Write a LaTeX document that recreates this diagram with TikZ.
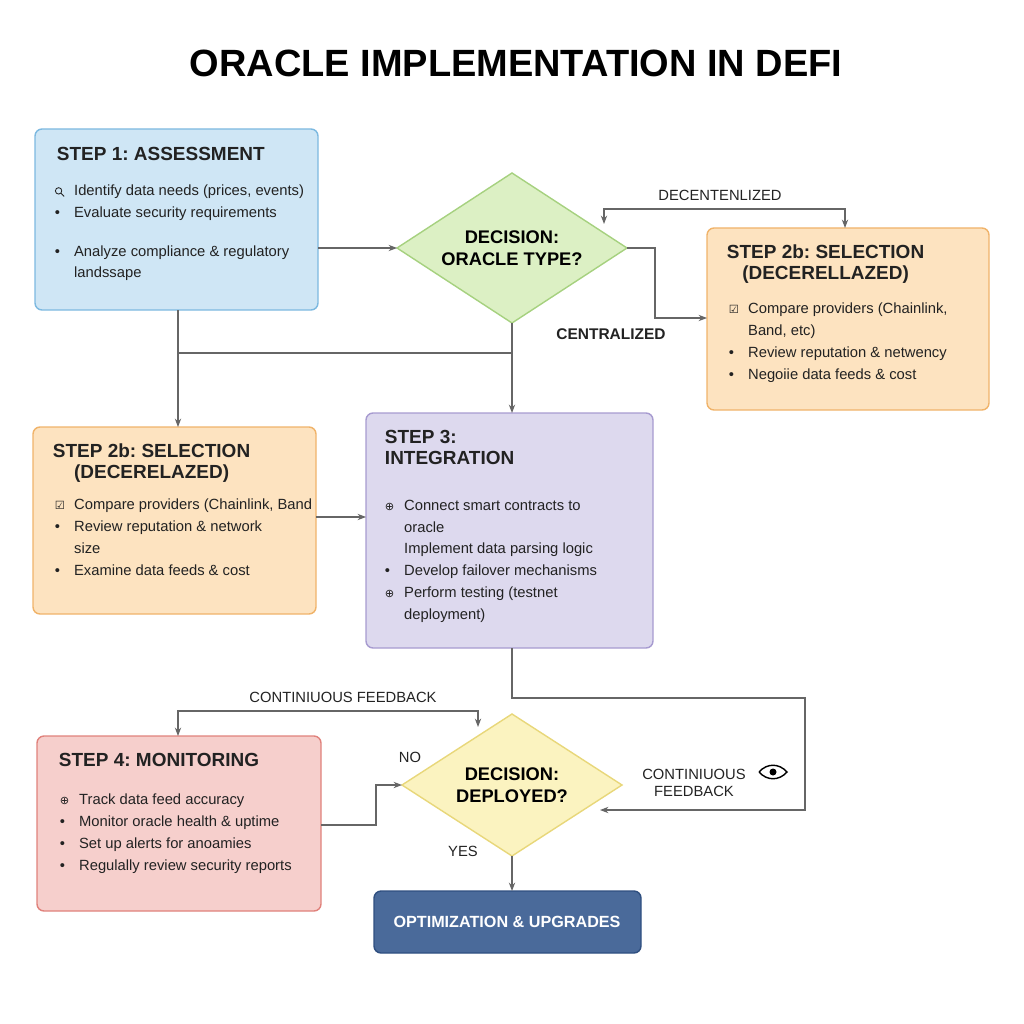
\documentclass[tikz,border=0pt]{standalone}
\usepackage{fontspec}
\setmainfont{Liberation Sans}
\newfontfamily\symfont{DejaVu Sans}
\usetikzlibrary{shapes.geometric,arrows.meta}
\definecolor{bluefill}{HTML}{CFE6F5}\definecolor{blueline}{HTML}{7DB9E0}
\definecolor{greenfill}{HTML}{DCF0C4}\definecolor{greenline}{HTML}{A6D17F}
\definecolor{orangefill}{HTML}{FDE3C0}\definecolor{orangeline}{HTML}{F0B36A}
\definecolor{purplefill}{HTML}{DDD9EE}\definecolor{purpleline}{HTML}{A79BD0}
\definecolor{redfill}{HTML}{F6CFCC}\definecolor{redline}{HTML}{E0827C}
\definecolor{yellowfill}{HTML}{FBF3C0}\definecolor{yellowline}{HTML}{E8D77A}
\definecolor{navyfill}{HTML}{4A6A9A}\definecolor{navyline}{HTML}{2F4F80}
\definecolor{textgray}{HTML}{222222}
\frenchspacing
\newcommand{\bul}{\makebox[1.3em][l]{\textbullet}}
\newcommand{\ico}[1]{\makebox[1.3em][l]{\symfont\footnotesize #1}}
\newcommand{\lens}{\makebox[1.3em][l]{\tikz[x=1cm,y=1cm,baseline=0pt]{\draw[line width=0.6pt] (0.08,0.12) circle (0.08cm) (0.14,0.06) -- (0.22,-0.02);}}}
\begin{document}
\begin{tikzpicture}[x=0.025cm,y=-0.025cm,
  box/.style={draw,rounded corners=5pt,line width=1pt},
  head/.style={anchor=north west,font=\bfseries\fontsize{13.5}{15}\selectfont,align=left,text=textgray},
  body/.style={anchor=north west,font=\fontsize{10.5}{15.5}\selectfont,align=left,text=textgray},
  dec/.style={diamond,draw,line width=1pt,inner sep=0pt,outer sep=0pt,aspect=1.53,font=\bfseries\fontsize{13}{16}\selectfont,align=center},
  lbl/.style={font=\fontsize{10.5}{12}\selectfont,align=center,text=textgray},
  arr/.style={draw=gray!80!black,line width=0.8pt,-{Stealth[length=6pt]}},
  ln/.style={draw=gray!80!black,line width=0.8pt}]
\useasboundingbox (0,0) rectangle (1024,1024);
\node[font=\bfseries\fontsize{27}{30}\selectfont] (title) at (516,63) {ORACLE IMPLEMENTATION IN DEFI};
% boxes
\draw[box,draw=blueline,fill=bluefill] (35,129) rectangle (318,310);
\draw[box,draw=orangeline,fill=orangefill] (707,228) rectangle (989,410);
\draw[box,draw=orangeline,fill=orangefill] (33,427) rectangle (316,614);
\draw[box,draw=purpleline,fill=purplefill] (366,413) rectangle (653,648);
\draw[box,draw=redline,fill=redfill] (37,736) rectangle (321,911);
\draw[box,draw=navyline,fill=navyfill] (374,891) rectangle (641,953);
\coordinate (s1e) at (318,248); \coordinate (s1s) at (178,310);
\coordinate (s2r) at (707,318); \coordinate (s2rn) at (845,228);
\coordinate (s2l) at (178,427); \coordinate (s2le) at (316,517);
\coordinate (s3w) at (366,517); \coordinate (s3n) at (512,413); \coordinate (s3s) at (512,648);
\coordinate (s4n) at (178,736); \coordinate (s4e) at (321,825);
\coordinate (opt) at (512,891);
\node[dec,draw=greenline,fill=greenfill,minimum width=230*0.025cm,minimum height=150*0.025cm] (d1) at (512,248) {DECISION:\\ORACLE TYPE?};
\node[dec,draw=yellowline,fill=yellowfill,minimum width=220*0.025cm,minimum height=142*0.025cm] (d2) at (512,785) {DECISION:\\DEPLOYED?};
% texts
\node[head] (h1) at (52,142) {STEP 1: ASSESSMENT};
\node[body] (b1) at (50,180) {\lens Identify data needs (prices, events)\\\bul Evaluate security requirements\\[12pt]\bul Analyze compliance \& regulatory\\\makebox[1.3em]{}landssape};
\node[head,align=center] (h2r) at (722,240) {STEP 2b: SELECTION\\(DECERELLAZED)};
\node[body] (b2r) at (724,298) {\ico{☑}Compare providers (Chainlink,\\\makebox[1.3em]{}Band, etc)\\\bul Review reputation \& netwency\\\bul Negoiie data feeds \& cost};
\node[head,align=center] (h2l) at (48,439) {STEP 2b: SELECTION\\(DECERELAZED)};
\node[body] (b2l) at (50,494) {\ico{☑}Compare providers (Chainlink, Band\\\bul Review reputation \& network\\\makebox[1.3em]{}size\\\bul Examine data feeds \& cost};
\node[head] (h3) at (380,425) {STEP 3:\\INTEGRATION};
\node[body] (b3) at (380,495) {\ico{⊕}Connect smart contracts to\\\makebox[1.3em]{}oracle\\\makebox[1.3em]{}Implement data parsing logic\\\bul Develop failover mechanisms\\\ico{⊕}Perform testing (testnet\\\makebox[1.3em]{}deployment)};
\node[head] (h4) at (54,748) {STEP 4: MONITORING};
\node[body] (b4) at (55,789) {\ico{⊕}Track data feed accuracy\\\bul Monitor oracle health \& uptime\\\bul Set up alerts for anoamies\\\bul Regulally review security reports};
\node[font=\bfseries\fontsize{11.5}{13}\selectfont,text=white] (o) at (507,922) {OPTIMIZATION \& UPGRADES};
% connectors
\draw[arr] (s1e) -- (d1.west);
\draw[arr,{Stealth[length=6pt]}-{Stealth[length=6pt]}] (604,224) -- (604,209) -- (845,209) -- (s2rn);
\node[lbl] (ldec) at (720,195) {DECENTENLIZED};
\draw[arr] (d1.east) -- (655,248) -- (655,318) -- (s2r);
\node[lbl,font=\bfseries\fontsize{11}{12}\selectfont] (lcen) at (611,334) {CENTRALIZED};
\draw[arr] (s1s) -- (s2l);
\draw[ln] (178,353) -- (512,353);
\draw[arr] (d1.south) -- (s3n);
\draw[arr] (s2le) -- (s3w);
\draw[arr] (s3s) -- (512,698) -- (805,698) -- (805,810) -- (600,810);
\node[lbl] (lfb) at (694,783) {CONTINIUOUS\\FEEDBACK};
\draw[line width=1pt] (759,772) .. controls (767,763) and (779,763) .. (787,772) .. controls (779,781) and (767,781) .. (759,772);
\fill (773,772) circle (3.5);
\draw[arr] (478,711) -- (178,711) -- (s4n);
\draw[arr] (300,711) -- (478,711) -- (478,727);
\node[lbl] (lfb2) at (343,697) {CONTINIUOUS FEEDBACK};
\draw[arr] (s4e) -- (376,825) -- (376,785) -- (d2.west);
\node[lbl] (lno) at (410,757) {NO};
\node[lbl] (lyes) at (463,851) {YES};
\draw[arr] (d2.south) -- (opt);
\end{tikzpicture}
\end{document}
